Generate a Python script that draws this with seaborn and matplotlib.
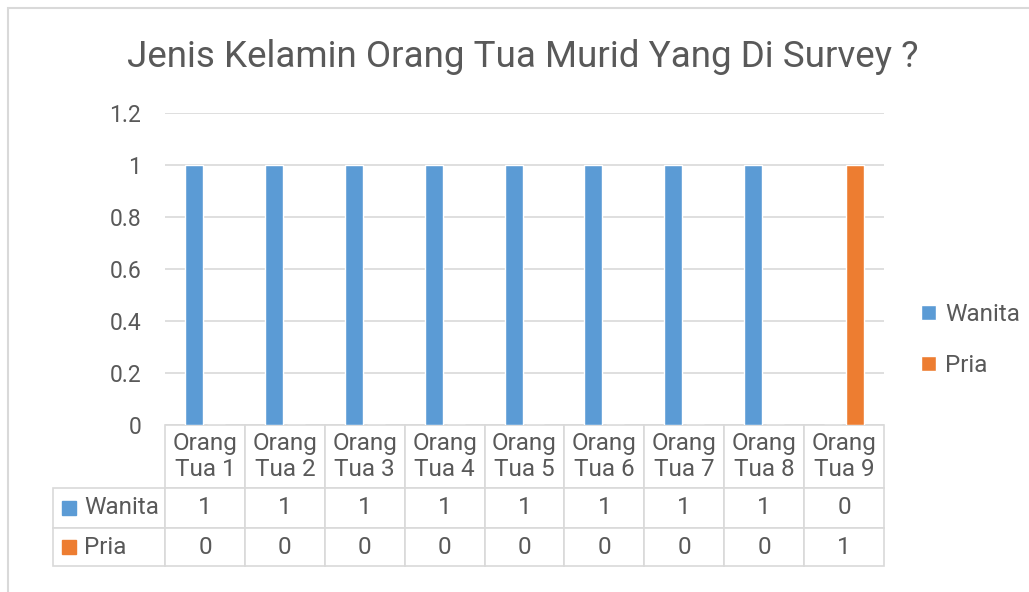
import pandas as pd
import matplotlib.pyplot as plt
import seaborn as sns
from matplotlib.patches import Rectangle

# data
categories = ["Orang Tua 1", "Orang Tua 2", "Orang Tua 3", "Orang Tua 4", "Orang Tua 5",
              "Orang Tua 6", "Orang Tua 7", "Orang Tua 8", "Orang Tua 9"]
wanita = [1, 1, 1, 1, 1, 1, 1, 1, 0]
pria = [0, 0, 0, 0, 0, 0, 0, 0, 1]
series = ["Wanita", "Pria"]
colors = ["#5B9BD5", "#ED7D31"]
title = "Jenis Kelamin Orang Tua Murid Yang Di Survey ?"

df = pd.DataFrame({
    "Kategori": categories * 2,
    "Nilai": wanita + pria,
    "Seri": ["Wanita"] * len(categories) + ["Pria"] * len(categories),
})

sns.set_theme(style="white")
plt.rcParams["font.family"] = ["Roboto", "DejaVu Sans"]
txt = "#595959"
grid = "#d9d9d9"

fig = plt.figure(figsize=(10.29, 5.92), dpi=100)
W, H = 1029, 592
AW, AH = 884 - 165, 425 - 113  # axes size in px
ax = fig.add_axes([165 / W, 1 - 425 / H, AW / W, AH / H])

sns.barplot(data=df, x="Kategori", y="Nilai", hue="Seri", hue_order=series,
            palette=colors, width=0.55, gap=0.18, ax=ax, saturation=1)

ax.set_ylim(0, 1.2)
ax.set_yticks([0, 0.2, 0.4, 0.6, 0.8, 1.0, 1.2])
ax.set_yticklabels(["0", "0.2", "0.4", "0.6", "0.8", "1", "1.2"])
ax.tick_params(axis="y", length=0, pad=17, labelsize=16.5, labelcolor=txt)
ax.set_xticks(range(len(categories)))
ax.set_xticklabels([])
ax.tick_params(axis="x", length=0)
ax.set_xlabel("")
ax.set_ylabel("")
ax.yaxis.grid(True, color=grid, linewidth=1.2)
ax.set_axisbelow(True)
for s in ax.spines.values():
    s.set_visible(False)

sns.move_legend(ax, loc="center left", bbox_to_anchor=((909 - 165) / AW, (425 - 340) / AH),
                frameon=False, title=None, fontsize=17.5, labelcolor=txt,
                handlelength=0.6, handleheight=0.6, handletextpad=0.4,
                labelspacing=1.15, borderpad=0)

# data table under the axis (bbox covers the value grid, row labels sit to its left)
cell_text = [[str(v) for v in wanita], [str(v) for v in pria]]
col_labels = [c.replace("Orang ", "Orang\n") for c in categories]
tbl = ax.table(cellText=cell_text, rowLabels=series, colLabels=col_labels,
               cellLoc="center", rowLoc="left",
               bbox=[0, -141 / AH, 1, 141 / AH])
tbl._autoColumns.clear()  # keep the fixed row-label column width
tbl.auto_set_font_size(False)
tbl.set_fontsize(17.5)
row_h = {0: 63, 1: 40, 2: 38}
for (r, c), cell in tbl.get_celld().items():
    cell.set_edgecolor(grid)
    cell.set_linewidth(1.2)
    cell.set_height(row_h[r] / AH)
    cell.set_width(112 / AW if c == -1 else 1 / 9)
    cell.get_text().set_color(txt)
    cell.get_text().set_linespacing(1.15)
    if c == -1:
        cell.PAD = 0.28

# colour keys in the row labels
for i, col in enumerate(colors):
    yc = [508, 547][i]
    ax.add_patch(Rectangle(((62 - 165) / AW, (425 - yc - 7) / AH), 14 / AW, 14 / AH,
                           transform=ax.transAxes, color=col, clip_on=False))

fig.text(523 / W, 1 - 57 / H, title, ha="center", va="center", fontsize=26.5, color=txt)

fig.patches.append(Rectangle((8 / W, -0.1), 1.2, 1 - 8 / H + 0.1, transform=fig.transFigure,
                             fill=False, edgecolor=grid, linewidth=1.5))

plt.savefig("out.png", dpi=100)
